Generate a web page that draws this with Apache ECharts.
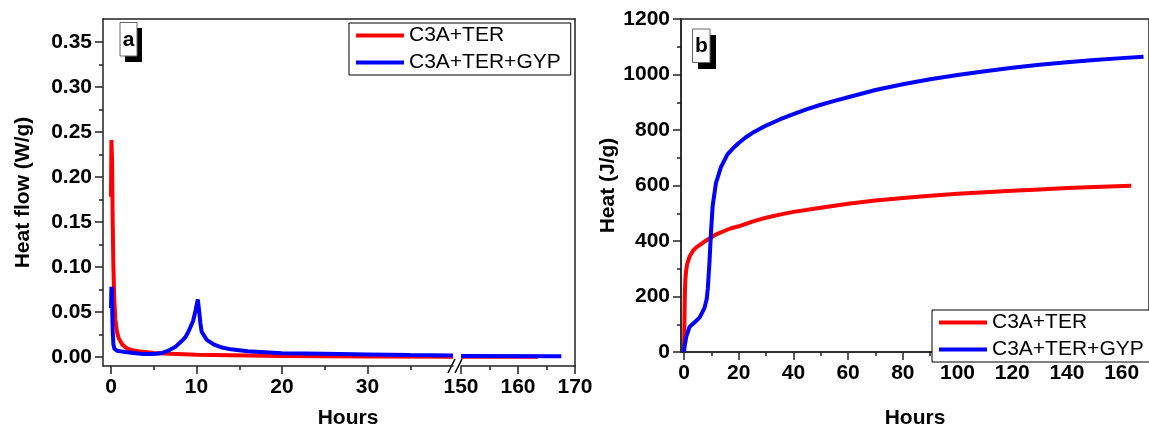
<!DOCTYPE html>
<html>
<head>
<meta charset="utf-8">
<script src="https://cdn.jsdelivr.net/npm/echarts@6/dist/echarts.min.js"></script>
<style>
  html, body { margin: 0; padding: 0; background: #fff; }
  #main { width: 1149px; height: 434px; }
</style>
</head>
<body>
<div id="main"></div>
<script>
// ---- data ----
var seriesNames = ['C3A+TER', 'C3A+TER+GYP'];

// panel a: heat flow (W/g) vs hours, early part
var flowHoursTer = [0, 0.05, 0.12, 0.2, 0.28, 0.38, 0.5, 0.7, 0.9, 1.3, 1.8, 2.5, 3.5, 5, 7, 10, 14, 20, 30, 40];
var flowTer      = [0.178, 0.241, 0.22, 0.15, 0.1, 0.065, 0.042, 0.028, 0.021, 0.014, 0.010, 0.0075, 0.006, 0.0045, 0.0035, 0.0025, 0.002, 0.0012, 0.0006, 0.0004];
var flowHoursGyp = [0, 0.05, 0.1, 0.15, 0.2, 0.28, 0.4, 0.7, 1.3, 2.6, 3.8, 5, 6, 6.8, 7.5, 8.3, 8.7, 9.05, 9.6, 9.9, 10.15, 10.3, 10.45, 10.6, 11.2, 12, 13, 14, 16, 20, 25, 30, 35, 40];
var flowGyp      = [0.054, 0.078, 0.075, 0.05, 0.028, 0.014, 0.009, 0.007, 0.006, 0.0045, 0.0032, 0.0033, 0.0045, 0.0075, 0.011, 0.018, 0.022, 0.028, 0.040, 0.052, 0.064, 0.052, 0.038, 0.028, 0.019, 0.014, 0.0105, 0.0085, 0.0065, 0.0042, 0.0035, 0.0028, 0.0021, 0.0017];
// panel a: late part (after the axis break)
var flowHoursTerLate = [150, 163.5];
var flowTerLate      = [0.0003, 0.0002];
var flowHoursGypLate = [150, 167.6];
var flowGypLate      = [0.001, 0.0008];

// panel b: cumulative heat (J/g) vs hours
var heatHoursTer = [0, 0.15, 0.3, 0.5, 0.8, 1.2, 2, 3.3, 4.5, 5.7, 7.5, 10, 12, 14.7, 17, 20, 25, 30, 35, 40, 50, 60, 70, 80, 90, 100, 110, 120, 130, 140, 150, 163.5];
var heatTer      = [0, 100, 200, 260, 295, 318, 343, 365, 377, 385, 398, 413, 425, 436, 445, 453, 470, 484, 495, 505, 520, 534, 546, 555, 563, 570, 576, 581, 586, 591, 595, 599];
var heatHoursGyp = [0, 0.3, 0.85, 2, 3.9, 5.7, 7.5, 8.3, 8.7, 9.3, 9.9, 10.5, 11.7, 13.5, 15.9, 18, 20, 22.5, 25.6, 30, 35, 40, 45, 50, 55, 60, 70, 80, 90, 100, 110, 120, 130, 140, 150, 160, 168];
var heatGyp      = [0, 25, 55, 90, 107, 124, 159, 190, 228, 320, 436, 528, 609, 666, 712, 735, 753, 773, 793, 816, 838, 857, 875, 891, 905, 918, 944, 965, 983, 998, 1012, 1024, 1035, 1044, 1052, 1059, 1064];

// tick values
var ticksAx1 = [0, 10, 20, 30];
var minorAx1 = [5, 15, 25, 35];
var ticksAx2 = [150, 160, 170];
var minorAx2 = [155, 165];
var ticksAy = [0, 0.05, 0.10, 0.15, 0.20, 0.25, 0.30, 0.35];
var minorAy = [0.025, 0.075, 0.125, 0.175, 0.225, 0.275, 0.325];
var ticksBx = [0, 20, 40, 60, 80, 100, 120, 140, 160];
var minorBx = [10, 30, 50, 70, 90, 110, 130, 150, 170];
var ticksBy = [0, 200, 400, 600, 800, 1000, 1200];
var minorBy = [100, 300, 500, 700, 900, 1100];

function zip(xs, ys) {
    var out = [];
    for (var i = 0; i < xs.length; i++) out.push([xs[i], ys[i]]);
    return out;
}

var FONT = 'Liberation Sans';
var AXIS = '#222';
var colors = ['#ff0000', '#0000ff'];

// major axis: line + long ticks + labels
function majorAxis(grid, pos, min, max, ticks, fmt, extra) {
    var a = {
        type: 'value', gridIndex: grid, position: pos, min: min, max: max,
        splitLine: { show: false },
        axisLine: { show: true, onZero: false, lineStyle: { color: AXIS, width: 1.5 } },
        axisTick: { show: true, inside: false, length: 8, customValues: ticks, lineStyle: { color: AXIS, width: 1.5 } },
        axisLabel: {
            show: true, customValues: ticks, margin: 11, color: '#000',
            fontFamily: FONT, fontWeight: 'bold', fontSize: 21,
            formatter: fmt
        }
    };
    for (var k in extra) a[k] = extra[k];
    return a;
}
// overlay axis used only for the short minor ticks
function minorAxis(grid, pos, min, max, ticks) {
    return {
        type: 'value', gridIndex: grid, position: pos, min: min, max: max,
        splitLine: { show: false },
        axisLine: { show: false, onZero: false },
        axisTick: { show: true, inside: false, length: 4, customValues: ticks, lineStyle: { color: AXIS, width: 1.5 } },
        axisLabel: { show: false }
    };
}
function plainAxis(grid, pos, min, max, showLine) {
    return {
        type: 'value', gridIndex: grid, position: pos, min: min, max: max,
        splitLine: { show: false },
        axisLine: { show: showLine, onZero: false, lineStyle: { color: AXIS, width: 1.5 } },
        axisTick: { show: false },
        axisLabel: { show: false }
    };
}

var intFmt = function (v) { return String(Math.round(v)); };
var decFmt = function (v) { return v.toFixed(2); };

var AYMIN = -0.01, AYMAX = 0.3756;

var option = {
    animation: false,
    backgroundColor: '#fff',
    grid: [
        { left: 103, top: 19, width: 350, height: 347 },     // panel a, before break
        { left: 461, top: 19, width: 114, height: 347 },     // panel a, after break
        { left: 103, top: 19, width: 472, height: 347 },     // panel a, top frame line
        { left: 681, top: 19, right: -4, height: 347, show: true, borderColor: AXIS, borderWidth: 1.5 } // panel b
    ],
    xAxis: [
        majorAxis(0, 'bottom', -0.936, 40, ticksAx1, intFmt),
        minorAxis(0, 'bottom', -0.936, 40, minorAx1),
        majorAxis(1, 'bottom', 150, 170, ticksAx2, intFmt),
        minorAxis(1, 'bottom', 150, 170, minorAx2),
        plainAxis(2, 'top', 0, 1, true),
        majorAxis(3, 'bottom', -1.09, 170, ticksBx, intFmt, {
            name: 'Hours', nameLocation: 'middle', nameGap: 56,
            nameTextStyle: { fontFamily: FONT, fontWeight: 'bold', fontSize: 21, color: '#000' }
        }),
        minorAxis(3, 'bottom', -1.09, 170, minorBx)
    ],
    yAxis: [
        majorAxis(0, 'left', AYMIN, AYMAX, ticksAy, decFmt, {
            name: 'Heat flow (W/g)', nameLocation: 'middle', nameGap: 69, nameRotate: 90,
            nameTextStyle: { fontFamily: FONT, fontWeight: 'bold', fontSize: 21, color: '#000' }
        }),
        minorAxis(0, 'left', AYMIN, AYMAX, minorAy),
        plainAxis(1, 'right', AYMIN, AYMAX, true),
        plainAxis(2, 'left', 0, 1, false),
        majorAxis(3, 'left', 0, 1200, ticksBy, intFmt, {
            name: 'Heat (J/g)', nameLocation: 'middle', nameGap: 62, nameRotate: 90,
            nameTextStyle: { fontFamily: FONT, fontWeight: 'bold', fontSize: 21, color: '#000' }
        }),
        minorAxis(3, 'left', 0, 1200, minorBy)
    ],
    legend: [
        {
            left: 349, top: 23, orient: 'vertical', data: seriesNames,
            icon: 'rect', itemWidth: 48, itemHeight: 4, itemGap: 6,
            padding: [2, 10, 2, 7], borderColor: '#000', borderWidth: 1, backgroundColor: '#fff',
            textStyle: { fontFamily: FONT, fontSize: 21, color: '#000' }
        },
        {
            left: 932, top: 310, orient: 'vertical', data: seriesNames,
            icon: 'rect', itemWidth: 48, itemHeight: 4, itemGap: 6,
            padding: [2, 10, 2, 7], borderColor: '#000', borderWidth: 1, backgroundColor: '#fff',
            textStyle: { fontFamily: FONT, fontSize: 21, color: '#000' }
        }
    ],
    color: colors,
    series: [
        { name: seriesNames[0], type: 'line', xAxisIndex: 0, yAxisIndex: 0, showSymbol: false,
          data: zip(flowHoursTer, flowTer), lineStyle: { width: 4, color: colors[0] }, itemStyle: { color: colors[0] } },
        { name: seriesNames[1], type: 'line', xAxisIndex: 0, yAxisIndex: 0, showSymbol: false,
          data: zip(flowHoursGyp, flowGyp), lineStyle: { width: 4, color: colors[1] }, itemStyle: { color: colors[1] } },
        { name: seriesNames[0], type: 'line', xAxisIndex: 2, yAxisIndex: 2, showSymbol: false,
          data: zip(flowHoursTerLate, flowTerLate), lineStyle: { width: 4, color: colors[0] }, itemStyle: { color: colors[0] } },
        { name: seriesNames[1], type: 'line', xAxisIndex: 2, yAxisIndex: 2, showSymbol: false,
          data: zip(flowHoursGypLate, flowGypLate), lineStyle: { width: 4, color: colors[1] }, itemStyle: { color: colors[1] } },
        { name: seriesNames[0], type: 'line', xAxisIndex: 5, yAxisIndex: 4, showSymbol: false,
          data: zip(heatHoursTer, heatTer), lineStyle: { width: 4, color: colors[0] }, itemStyle: { color: colors[0] } },
        { name: seriesNames[1], type: 'line', xAxisIndex: 5, yAxisIndex: 4, showSymbol: false,
          data: zip(heatHoursGyp, heatGyp), lineStyle: { width: 4, color: colors[1] }, itemStyle: { color: colors[1] } }
    ],
    graphic: [
        // axis break marks
        { type: 'line', shape: { x1: 448, y1: 373, x2: 455, y2: 359 }, style: { stroke: '#000', lineWidth: 1.5 } },
        { type: 'line', shape: { x1: 455, y1: 373, x2: 462, y2: 359 }, style: { stroke: '#000', lineWidth: 1.5 } },
        // panel label "a"
        { type: 'rect', shape: { x: 125, y: 28, width: 17, height: 34 }, style: { fill: '#000' } },
        { type: 'rect', shape: { x: 120, y: 22.5, width: 17, height: 33.5 }, style: { fill: '#fff', stroke: '#666', lineWidth: 1 } },
        { type: 'text', x: 128.5, y: 40, style: { text: 'a', font: 'bold 21px Liberation Sans', fill: '#000', align: 'center', verticalAlign: 'middle' } },
        // panel label "b"
        { type: 'rect', shape: { x: 698, y: 35, width: 18, height: 34 }, style: { fill: '#000' } },
        { type: 'rect', shape: { x: 692.5, y: 29, width: 17.5, height: 33.5 }, style: { fill: '#fff', stroke: '#666', lineWidth: 1 } },
        { type: 'text', x: 701.5, y: 46, style: { text: 'b', font: 'bold 21px Liberation Sans', fill: '#000', align: 'center', verticalAlign: 'middle' } },
        // x axis title of panel a
        { type: 'text', x: 348, y: 418, style: { text: 'Hours', font: 'bold 21px Liberation Sans', fill: '#000', align: 'center', verticalAlign: 'middle' } }
    ]
};

var myChart = echarts.init(document.getElementById('main'));
myChart.setOption(option);
</script>
</body>
</html>
